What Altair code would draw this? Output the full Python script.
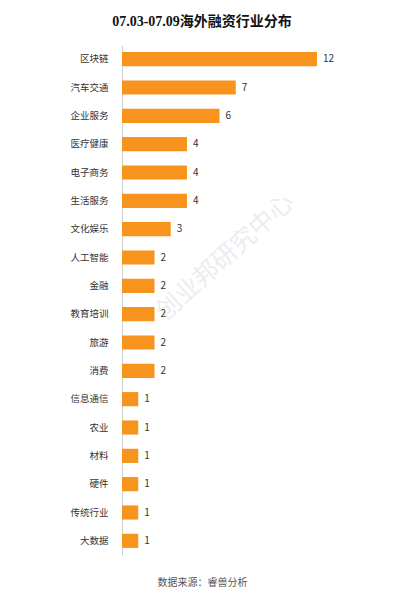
import altair as alt
import pandas as pd

categories = ["区块链", "汽车交通", "企业服务", "医疗健康", "电子商务", "生活服务", "文化娱乐",
              "人工智能", "金融", "教育培训", "旅游", "消费", "信息通信", "农业", "材料",
              "硬件", "传统行业", "大数据"]
values = [12, 7, 6, 4, 4, 4, 3, 2, 2, 2, 2, 2, 1, 1, 1, 1, 1, 1]

title_text = "07.03-07.09海外融资行业分布"
source_text = "数据来源：睿兽分析"
watermark_text = "创业邦研究中心"

df = pd.DataFrame({"industry": categories, "count": values})

CJK = "'Noto Sans CJK SC', 'Noto Sans', sans-serif"

y_enc = alt.Y("industry:N", sort=categories,
              scale=alt.Scale(paddingInner=0.5, paddingOuter=0.25),
              axis=alt.Axis(title=None, ticks=False, labelPadding=14, labelFontSize=9.5,
                            labelColor="#333333", labelFont=CJK, domainColor="#d0d0d0",
                            domainWidth=1))
x_enc = alt.X("count:Q", scale=alt.Scale(domain=[0, 16], nice=False),
              axis=alt.Axis(labels=False, ticks=False, grid=False, domain=False,
                            title=source_text, titleFont=CJK, titleFontSize=10,
                            titleFontWeight="normal", titleColor="#555555",
                            titleX=80, titleY=22, titleAnchor="middle", titleAlign="center"))

bars = alt.Chart(df).mark_bar(color="#F7941D").encode(x=x_enc, y=y_enc)
labels = alt.Chart(df).mark_text(align="left", baseline="middle", dx=6, fontSize=10,
                                 font=CJK, color="#333333").encode(
    x="count:Q", y=alt.Y("industry:N", sort=categories), text="count:Q")

wm = alt.Chart(pd.DataFrame({"t": [watermark_text]})).mark_text(
    angle=318, fontSize=25, font=CJK, color="#e8e8ee", opacity=0.8,
    align="center", baseline="middle").encode(
    x=alt.value(103), y=alt.value(212), text="t:N")

chart = alt.layer(wm, bars, labels).properties(
    width=260, height=510,
    title=alt.TitleParams(title_text, anchor="middle", dx=-50, fontSize=14, fontWeight="bold",
                          font="'Liberation Serif', 'Noto Sans CJK SC', serif", color="#111111",
                          offset=16),
    autosize=alt.AutoSizeParams(type="none"),
    padding={"left": 114, "top": 37, "right": 18, "bottom": 44},
).configure_view(stroke=None).configure_scale(bandPaddingInner=0.5)

chart.save("out.html", embed_options={"renderer": "svg", "actions": False})
